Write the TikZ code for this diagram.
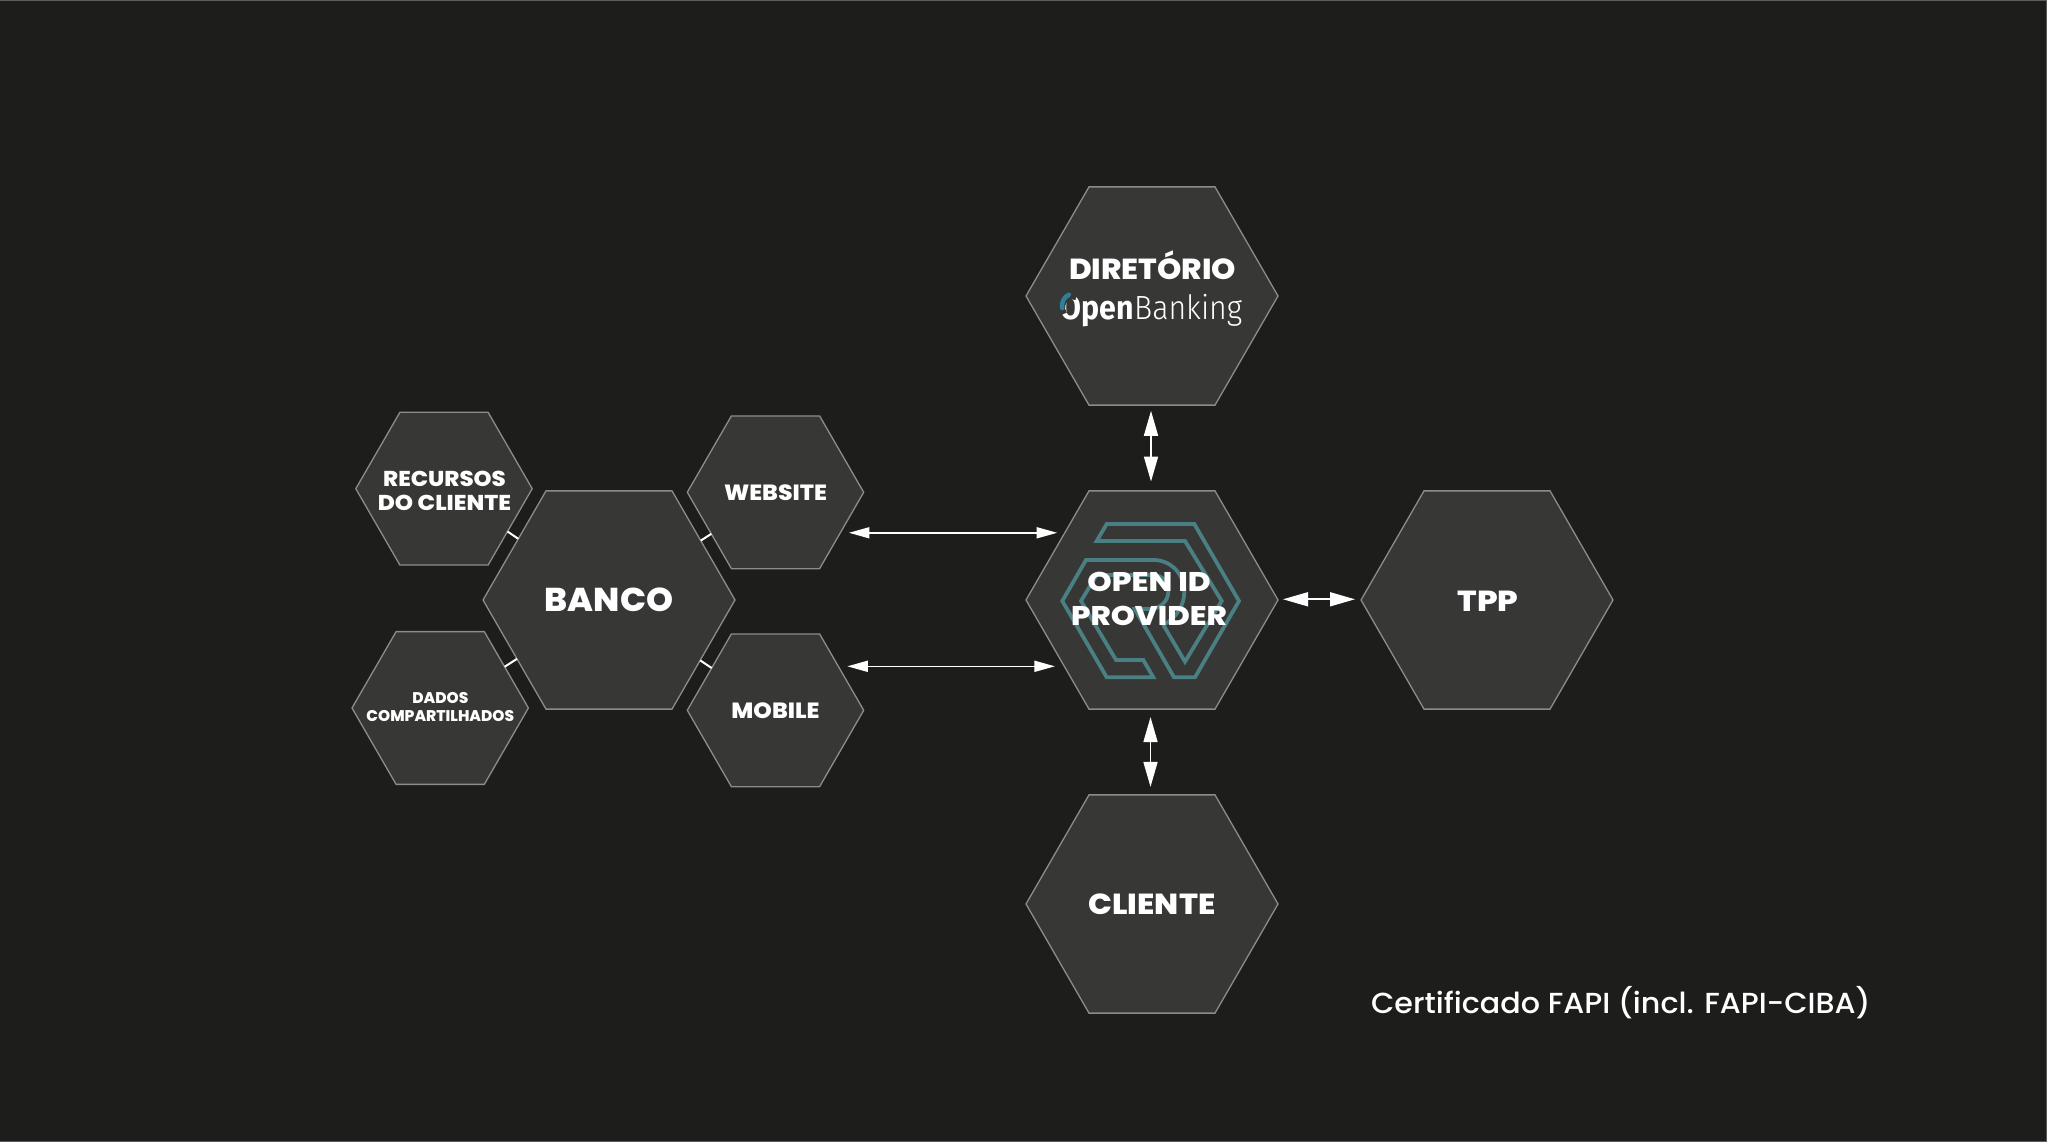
\documentclass[tikz,border=0pt]{standalone}
\usepackage{fontspec}
\usepackage{graphicx}
\setmainfont{Poppins}[BoldFont=* ExtraBold,UprightFont=* Medium]
\newfontfamily\obfont{Fira Sans}[UprightFont=* Light,BoldFont=* Bold]
\usetikzlibrary{shapes.geometric,arrows.meta}
\definecolor{bgc}{HTML}{1D1D1B}
\definecolor{hexc}{HTML}{373735}
\definecolor{edgec}{HTML}{8C8C8A}
\definecolor{framec}{HTML}{5C5C5A}
\definecolor{tealc}{HTML}{4A7F84}
\definecolor{bluec}{HTML}{2F7F9B}
\newcommand{\hs}[2]{\scalebox{#1}[1]{#2}}
\tikzset{
  hexbase/.style={shape=regular polygon,regular polygon sides=6,draw=edgec,fill=hexc,line width=1.3pt,inner sep=0pt,outer sep=0pt,text=white,font=\bfseries},
  bighex/.style={hexbase,minimum size=252pt},
  smallhex/.style={hexbase,minimum size=176.4pt},
  link/.style={draw=white,line width=2pt},
  bigarrow/.style={draw=white,line width=1.6pt,{Triangle[length=25pt,width=14pt]}-{Triangle[length=25pt,width=14pt]}},
  midarrow/.style={draw=white,line width=1.6pt,{Triangle[length=20.5pt,width=11pt]}-{Triangle[length=20.5pt,width=11pt]}},
  label/.style={inner sep=0pt,text=white}
}
\begin{document}
\begin{tikzpicture}[x=1pt,y=1pt]
\useasboundingbox (0,0) rectangle (2047,1142);
\fill[bgc] (0,0) rectangle (2047,1142);
\draw[framec,line width=2.5pt] (0,1142) -- (2047,1142) -- (2047,0) -- (0,0);
\node[bighex] (dir) at (1152,846) {};
\node[bighex] (open) at (1152,542) {};
\node[bighex] (tpp) at (1487,542) {};
\node[bighex] (cliente) at (1152,238) {\fontsize{29}{34}\selectfont\hs{1.087}{CLIENTE}};
\node[bighex] (banco) at (609,542) {\fontsize{33}{38}\selectfont\hs{1.04}{BANCO}};
\node[smallhex] (recursos) at (444,653.3) {};
\node[smallhex] (website) at (775.5,649.7) {\fontsize{22}{26}\selectfont\hs{1.07}{WEBSITE}};
\node[smallhex] (mobile) at (775.5,431.7) {\fontsize{22}{26}\selectfont\hs{1.07}{MOBILE}};
\node[smallhex] (dados) at (440.2,434) {};
% logo
\draw[tealc,line width=3.8pt,line join=miter]
  (1096.7,601) -- (1106.7,618) -- (1194.3,618) -- (1239,541) -- (1195,464.7) -- (1174,464.7)
  -- (1134.7,533) -- (1150,533) .. controls (1160,533) and (1168.3,541) .. (1168.3,550.3)
  .. controls (1168.3,560) and (1162,567) .. (1153.3,567) -- (1096.7,567) -- (1081,541)
  -- (1116,482) -- (1143.3,482) -- (1153.3,464.7) -- (1106.7,464.7) -- (1062.3,541)
  -- (1086,582) -- (1153.3,582) .. controls (1171,582) and (1184.3,568) .. (1184.3,550.3)
  .. controls (1184.3,536) and (1176,524) .. (1163.3,517) -- (1185,480.3) -- (1221.7,541)
  -- (1185,601) -- cycle;
% labels
\node[label,font=\bfseries\fontsize{29}{29}\selectfont] (l0) at (1488,541) {\hs{1.12}{TPP}};
\node[label,font=\bfseries\fontsize{27}{27}\selectfont] (l1) at (1149,560.3) {\hs{1.15}{OPEN ID}};
\node[label,font=\bfseries\fontsize{27}{27}\selectfont] (l2) at (1149,526.3) {\hs{1.136}{PROVIDER}};
\node[label,anchor=base,font=\bfseries\fontsize{29}{29}\selectfont] (l3) at (1152.7,862.5) {\hs{1.067}{DIRETÓRIO}};
\node[label,anchor=base,font=\obfont\fontsize{33.5}{33.5}\selectfont] (l4) at (1151.5,822.3) {\hs{.905}{\textbf{Open}Banking}};
\draw[hexc,line width=6pt] (1073,834.5) ++(75:11) arc[start angle=75,end angle=215,x radius=11,y radius=11];
\draw[bluec,line width=4.5pt,line cap=round] (1073,836) ++(110:12) arc[start angle=110,end angle=190,x radius=10.5,y radius=12];
\node[label,font=\bfseries\fontsize{21.5}{21.5}\selectfont] (l5) at (444.5,663.3) {\hs{1.063}{RECURSOS}};
\node[label,font=\bfseries\fontsize{21.5}{21.5}\selectfont] (l6) at (444.5,638.7) {\hs{1.08}{DO CLIENTE}};
\node[label,font=\bfseries\fontsize{15.5}{15.5}\selectfont] (l7) at (440.3,444) {\hs{.995}{DADOS}};
\node[label,font=\bfseries\fontsize{15.5}{15.5}\selectfont] (l8) at (440.3,426) {\hs{.995}{COMPARTILHADOS}};
\node[label,font=\fontsize{29}{29}\selectfont] (l9) at (1620.8,139) {\hs{1.04}{Certificado FAPI (incl. FAPI-CIBA)}};
% connectors
\draw[link] (recursos) -- (banco);
\draw[link] (website) -- (banco);
\draw[link] (dados) -- (banco);
\draw[link] (mobile) -- (banco);
\draw[bigarrow,shorten <=5.7pt,shorten >=9.3pt,transform canvas={xshift=-1pt}] (dir) -- (open);
\draw[bigarrow,shorten <=8pt,shorten >=8pt,transform canvas={xshift=-1.5pt}] (open) -- (cliente);
\draw[bigarrow,shorten <=5pt,shorten >=6pt,transform canvas={yshift=.7pt}] (open) -- (tpp);
\draw[midarrow,shorten <=8.6pt,shorten >=8pt] (website.-32.1) -- (open.142.3 |- website.-32.1);
\draw[midarrow,shorten <=9pt,shorten >=9.3pt] (mobile.35) -- (open.217.1 |- mobile.35);
\end{tikzpicture}
\end{document}
